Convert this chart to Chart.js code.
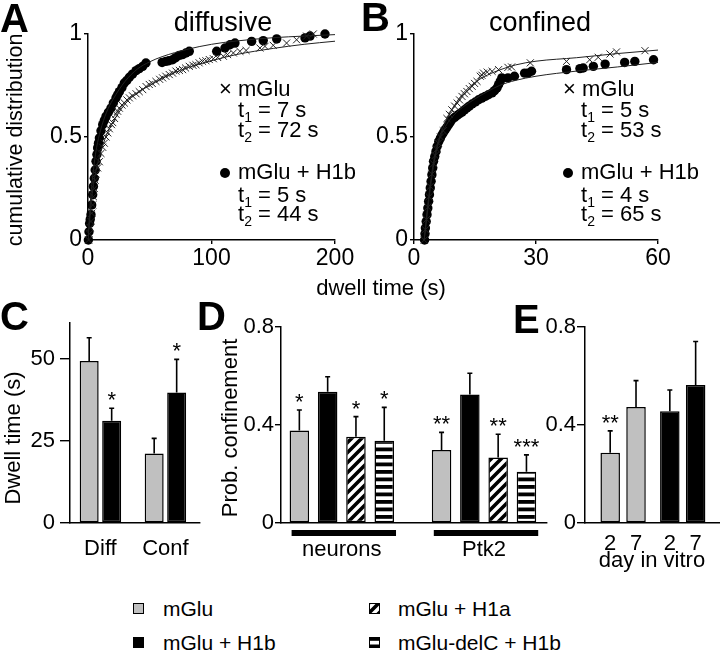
<!DOCTYPE html>
<html><head><meta charset="utf-8">
<script src="https://cdn.jsdelivr.net/npm/chart.js@4.4.0/dist/chart.umd.min.js"></script>
<style>
html,body{margin:0;padding:0;background:#fff;}
#fig{position:relative;width:720px;height:662px;overflow:hidden;background:#fff;font-family:'Liberation Sans',Arial,Helvetica,sans-serif;color:#000;}
#fig canvas{position:absolute;}
.t{position:absolute;white-space:nowrap;line-height:1;z-index:5;}
.sub{font-size:14px;position:relative;top:5px;}
.dot{position:absolute;width:10px;height:10px;border-radius:50%;background:#000;z-index:5;}
</style></head><body><div id="fig"></div>
<script>
// ---------- Panel A: diffusive (dwell time s, cumulative distribution) ----------
const aMGluTime = [0.5,1.1,1.7,2.4,3.0,3.8,4.4,5.1,5.8,6.5,7.8,9.2,10.5,11.9,13.2,14.6,16.0,17.3,19.0,20.0,21.5,22.7,24.0,25.4,27.5,29.4,31.5,33.5,36.0,38.9,41.5,44.3,47.0,49.6,52.0,55.0,58.0,60.4,63.0,65.8,68.5,71.2,74.0,76.6,79.0,82.0,85.0,87.4,90.0,92.8,95.5,98.2,101.5,105.0,109.6,113.0,117.7,123.0,128.0,139.2,143.3,150.0,160.8,168.9,177.0,182.4];
const aMGluCum  = [0.00,0.03,0.06,0.09,0.13,0.17,0.21,0.25,0.29,0.32,0.35,0.38,0.42,0.45,0.47,0.50,0.52,0.54,0.56,0.57,0.59,0.61,0.625,0.64,0.655,0.665,0.68,0.69,0.70,0.71,0.72,0.73,0.745,0.755,0.76,0.77,0.78,0.787,0.795,0.803,0.81,0.82,0.823,0.827,0.835,0.843,0.848,0.851,0.86,0.867,0.87,0.876,0.88,0.886,0.892,0.9,0.908,0.916,0.92,0.932,0.94,0.945,0.956,0.972,0.99,1.0];
const aH1bTime = [0.3,0.8,1.3,1.8,2.4,3.0,3.8,4.4,5.1,5.8,6.5,7.2,7.8,8.5,9.2,10.5,11.9,13.2,14.6,16.5,18.6,20.5,22.7,24.0,25.4,27.5,29.4,31.5,33.5,36.0,38.9,41.5,44.3,46.9,60.0,63.0,65.5,68.5,71.0,74.0,76.5,79.3,82.0,104.2,110.9,115.0,119.0,132.5,141.9,152.8,175.7,179.8,191.9];
const aH1bCum  = [0.0,0.04,0.08,0.10,0.123,0.17,0.22,0.26,0.30,0.34,0.382,0.415,0.447,0.47,0.495,0.53,0.56,0.58,0.60,0.62,0.64,0.665,0.69,0.705,0.72,0.74,0.762,0.775,0.79,0.805,0.822,0.832,0.843,0.859,0.862,0.867,0.87,0.875,0.885,0.896,0.90,0.908,0.916,0.916,0.932,0.948,0.956,0.964,0.968,0.976,0.981,0.99,1.0];
const aFitTime   = [0,1,2,3,5,7,10,15,20,30,40,50,60,80,100,120,150,175,200];
const aFitMGlu   = [0,0.07,0.14,0.2,0.29,0.35,0.42,0.51,0.57,0.66,0.715,0.75,0.785,0.835,0.87,0.9,0.93,0.95,0.965];
const aFitH1b    = [0,0.1,0.19,0.26,0.37,0.45,0.53,0.62,0.68,0.77,0.83,0.865,0.89,0.925,0.95,0.966,0.982,0.99,0.997];
const aXTicks = [0,100,200];

// ---------- Panel B: confined ----------
const bMGluTime = [2.5,2.8,3.1,3.4,3.7,4.0,4.4,4.8,5.2,5.6,6.0,6.5,7.2,8.1,8.7,9.3,10.0,10.6,11.2,11.8,12.4,13.0,13.6,14.3,14.9,15.5,16.3,16.7,17.1,18.0,19.2,20.8,23.1,24.0,28.6,37.5,43.2,45.3,48.2,49.8,56.8];
const bMGluCum  = [0.0,0.05,0.10,0.16,0.21,0.26,0.32,0.37,0.41,0.44,0.47,0.50,0.53,0.59,0.61,0.632,0.65,0.665,0.68,0.697,0.71,0.721,0.735,0.746,0.76,0.77,0.795,0.80,0.81,0.815,0.819,0.827,0.838,0.84,0.86,0.867,0.875,0.887,0.903,0.913,0.919];
const bH1bTime = [2.6,2.7,2.8,3.0,3.2,3.4,3.6,3.8,4.0,4.2,4.4,4.6,4.8,5.1,5.4,5.7,6.1,6.5,6.9,7.3,7.7,8.1,8.5,8.9,9.3,10.0,10.6,11.2,11.8,12.4,13.0,13.6,14.3,15.1,15.9,16.7,17.5,18.3,19.2,19.8,20.4,20.8,21.2,21.6,23.1,24.7,27.2,28.0,28.9,37.5,40.8,41.6,44.1,47.0,51.8,54.3,58.9];
const bH1bCum  = [0.0,0.03,0.058,0.09,0.123,0.155,0.188,0.22,0.253,0.285,0.317,0.35,0.382,0.405,0.43,0.455,0.479,0.495,0.511,0.524,0.536,0.548,0.56,0.572,0.584,0.595,0.605,0.613,0.621,0.631,0.641,0.65,0.66,0.67,0.681,0.689,0.697,0.705,0.714,0.725,0.738,0.754,0.77,0.787,0.787,0.795,0.81,0.81,0.819,0.827,0.832,0.835,0.843,0.854,0.862,0.867,0.875];
const bFitTime = [2.5,3,4,5,6,8,10,12,15,18,21,25,30,40,50,60];
const bFitMGlu = [0,0.1,0.27,0.4,0.48,0.585,0.655,0.71,0.765,0.8,0.825,0.85,0.868,0.885,0.905,0.922];
const bFitH1b  = [0,0.08,0.25,0.38,0.47,0.56,0.61,0.645,0.685,0.72,0.75,0.775,0.795,0.82,0.84,0.862];
const bXTicks = [0,30,60];
const cumTicks = [0,0.5,1];
const cumTickLabels = ['0','0.5','1'];

// ---------- Panel C: dwell time ----------
const cGroups = ['Diff','Conf'];
const cMGlu = [49.4, 21.2];
const cMGluErr = [7.1, 4.6];
const cMGluStars = ['',''];
const cH1b = [31.2, 39.8];
const cH1bErr = [3.8, 10.1];
const cH1bStars = ['*','*'];
const cTicks = [0,25,50];

// ---------- Panel D: prob. confinement ----------
const dGroups = ['neurons','Ptk2'];
const dMGlu = [0.378, 0.298];   const dMGluErr = [0.083, 0.072];  const dMGluStars = ['*','**'];
const dH1b  = [0.536, 0.525];   const dH1bErr  = [0.061, 0.086];  const dH1bStars  = ['',''];
const dH1a  = [0.352, 0.267];   const dH1aErr  = [0.082, 0.095];  const dH1aStars  = ['*','**'];
const dDelC = [0.336, 0.209];   const dDelCErr = [0.136, 0.069];  const dDelCStars = ['*','***'];
const probTicks = [0,0.4,0.8];
const probTickLabels = ['0','0.4','0.8'];

// ---------- Panel E: day in vitro ----------
const eGroups = ['mGlu','mGlu + H1b'];
const eDay2 = [0.287, 0.456];  const eDay2Err = [0.089, 0.087];  const eDay2Stars = ['**',''];
const eDay7 = [0.473, 0.563];  const eDay7Err = [0.108, 0.178];  const eDay7Stars = ['',''];
const eDays = ['2','7'];

// ---------- legend ----------
const legendItems = ['mGlu','mGlu + H1b','mGlu + H1a','mGlu-delC + H1b'];

// ================= rendering =================
const FONT = "'Liberation Sans', Arial, Helvetica, sans-serif";
Chart.defaults.font.family = FONT;
Chart.defaults.color = '#000';
const GRAY = '#c0c0c0', BLACK = '#000';
const fig = document.getElementById('fig');

function mk(l,t,w,h){const c=document.createElement('canvas');c.width=w;c.height=h;c.style.left=l+'px';c.style.top=t+'px';c.style.width=w+'px';c.style.height=h+'px';fig.appendChild(c);return c;}
function txt(html,x,base,size,o={}){
  const d=document.createElement('div');d.className='t';d.innerHTML=html;d.style.fontSize=size+'px';
  if(o.bold)d.style.fontWeight='bold';
  if(o.rot){d.style.left=x+'px';d.style.top=base+'px';d.style.transform='translate(-50%,-50%) rotate(-90deg)';}
  else{d.style.top=(base-0.8465*size)+'px';d.style.left=x+'px';if(o.center)d.style.transform='translateX(-50%)';}
  fig.appendChild(d);return d;
}
function dot(x,y){const d=document.createElement('div');d.className='dot';d.style.left=(x-5)+'px';d.style.top=(y-5)+'px';fig.appendChild(d);}
const pts=(xs,ys)=>xs.map((x,i)=>({x,y:ys[i]}));
const grp=vals=>vals.map((v,i)=>({x:i,y:v}));

function makeDiag(){const c=document.createElement('canvas');c.width=10;c.height=10;const g=c.getContext('2d');g.fillStyle='#fff';g.fillRect(0,0,10,10);g.strokeStyle='#000';g.lineWidth=3.6;g.beginPath();g.moveTo(-1,11);g.lineTo(11,-1);g.moveTo(-6,6);g.lineTo(6,-6);g.moveTo(4,16);g.lineTo(16,4);g.stroke();return g.createPattern(c,'repeat');}
function makeHoriz(){const c=document.createElement('canvas');c.width=8;c.height=15;const g=c.getContext('2d');g.fillStyle='#fff';g.fillRect(0,0,8,15);g.fillStyle='#000';g.fillRect(0,0,8,3.8);g.fillRect(0,7.5,8,3.8);return g.createPattern(c,'repeat');}
const DIAG=makeDiag(), HORIZ=makeHoriz();

function yScale(min,max,ticks,labels,width,tickLen,size,pad){
  return {type:'linear',min,max,
    afterBuildTicks:s=>{s.ticks=ticks.map(v=>({value:v}));},
    afterFit:s=>{s.width=width;},
    grid:{display:true,drawOnChartArea:false,drawTicks:true,tickLength:tickLen,color:'#000',lineWidth:1.4},
    border:{display:true,color:'#000',width:1.5},
    ticks:{callback:(v,i)=>labels?labels[i]:String(v),font:{size},color:'#000',padding:pad,autoSkip:false}};
}
function xLin(min,max,ticks,labels,height,tickLen,size,pad,showTicks){
  return {type:'linear',min,max,offset:false,
    afterBuildTicks:s=>{s.ticks=ticks.map(v=>({value:v}));},
    afterFit:s=>{s.height=height;},
    grid:{display:tickLen>0,drawOnChartArea:false,drawTicks:tickLen>0,tickLength:tickLen,color:'#000',lineWidth:1.4},
    border:{display:true,color:'#000',width:1.5},
    ticks:{display:showTicks,callback:(v,i)=>labels[i],font:{size},color:'#000',padding:pad,autoSkip:false,maxRotation:0}};
}

const barExtras={id:'barExtras',
  afterDatasetsDraw(chart,args,o){
    const ctx=chart.ctx, ys=chart.scales.y;
    ctx.save();
    chart.data.datasets.forEach((ds,di)=>{
      const meta=chart.getDatasetMeta(di);
      meta.data.forEach((bar,i)=>{
        const v=ds.data[i].y, e=ds.errors?ds.errors[i]:0;
        const top=ys.getPixelForValue(v+e);
        ctx.strokeStyle='#000';ctx.lineWidth=1.6;
        ctx.beginPath();ctx.moveTo(bar.x,bar.y);ctx.lineTo(bar.x,top);
        ctx.moveTo(bar.x-2.5,top);ctx.lineTo(bar.x+2.5,top);ctx.stroke();
        ctx.fillStyle='#000';ctx.textAlign='center';ctx.textBaseline='alphabetic';
        if(ds.stars&&ds.stars[i]){ctx.font='22px '+FONT;ctx.fillText(ds.stars[i],bar.x,top+o.starShift);}
        if(ds.barLabel&&o.barLabelGap){ctx.font='22px '+FONT;ctx.fillText(ds.barLabel,bar.x,chart.chartArea.bottom+o.barLabelGap);}
      });
    });
    if(o.underline){
      const n=chart.data.datasets.length;
      const first=chart.getDatasetMeta(0).data,last=chart.getDatasetMeta(n-1).data;
      ctx.fillStyle='#000';
      first.forEach((b,i)=>{const x0=b.x-b.width/2,x1=last[i].x+last[i].width/2;ctx.fillRect(x0+2,chart.chartArea.bottom+o.underline.gap,x1-x0,o.underline.h);});
    }
    ctx.restore();
  }};

const base={responsive:false,animation:false,devicePixelRatio:1,events:[],
  plugins:{legend:{display:false},tooltip:{enabled:false}}};

// ---- A ----
function scatterCfg(mT,mC,hT,hC,fT,fM,fH,xmax,xticks,padRight,yw){
  return {type:'scatter',
    data:{datasets:[
      {label:'mGlu fit',data:pts(fT,fM),showLine:true,pointRadius:0,borderColor:'#222',borderWidth:1,cubicInterpolationMode:'monotone'},
      {label:'mGlu + H1b fit',data:pts(fT,fH),showLine:true,pointRadius:0,borderColor:'#222',borderWidth:1,cubicInterpolationMode:'monotone'},
      {label:'mGlu',data:pts(mT,mC),pointStyle:'crossRot',pointRadius:5,borderColor:'#222',borderWidth:1,backgroundColor:'rgba(0,0,0,0)',clip:false},
      {label:'mGlu + H1b',data:pts(hT,hC),pointStyle:'circle',pointRadius:4.7,backgroundColor:'#000',borderColor:'#000',borderWidth:0,clip:false}
    ]},
    options:Object.assign({},base,{
      layout:{padding:{left:0,top:34,right:padRight,bottom:0}},
      scales:{
        x:xLin(0,xmax,xticks,xticks.map(String),50,4,23,1,true),
        y:yScale(0,1,cumTicks,cumTickLabels,yw,4,23,2)
      }})
  };
}
new Chart(mk(0,0,360,290),scatterCfg(aMGluTime,aMGluCum,aH1bTime,aH1bCum,aFitTime,aFitMGlu,aFitH1b,200,aXTicks,25,88));
new Chart(mk(360,0,360,290),scatterCfg(bMGluTime,bMGluCum,bH1bTime,bH1bCum,bFitTime,bFitMGlu,bFitH1b,60,bXTicks,62,54));

// ---- C ----
const barDs={borderColor:'#000',borderWidth:1.5,borderSkipped:false};
new Chart(mk(0,290,220,290),{type:'bar',
  data:{datasets:[
    Object.assign({label:'mGlu',data:grp(cMGlu),errors:cMGluErr,stars:cMGluStars,backgroundColor:GRAY},barDs),
    Object.assign({label:'mGlu + H1b',data:grp(cH1b),errors:cH1bErr,stars:cH1bStars,backgroundColor:BLACK},barDs)]},
  options:Object.assign({},base,{
    layout:{padding:{left:0,top:33,right:20,bottom:0}},
    datasets:{bar:{categoryPercentage:0.692,barPercentage:0.844}},
    plugins:Object.assign({},base.plugins,{barExtras:{starShift:-1}}),
    scales:{x:xLin(-0.468,1.532,[0,1],cGroups,57,0,22,13,true),
            y:yScale(0,61,cTicks,null,70,10,22,5)}}),
  plugins:[barExtras]});

// ---- D ----
new Chart(mk(220,290,340,290),{type:'bar',
  data:{datasets:[
    Object.assign({label:'mGlu',data:grp(dMGlu),errors:dMGluErr,stars:dMGluStars,backgroundColor:GRAY},barDs),
    Object.assign({label:'mGlu + H1b',data:grp(dH1b),errors:dH1bErr,stars:dH1bStars,backgroundColor:BLACK},barDs),
    Object.assign({label:'mGlu + H1a',data:grp(dH1a),errors:dH1aErr,stars:dH1aStars,backgroundColor:DIAG},barDs),
    Object.assign({label:'mGlu-delC + H1b',data:grp(dDelC),errors:dDelCErr,stars:dDelCStars,backgroundColor:HORIZ},barDs)]},
  options:Object.assign({},base,{
    layout:{padding:{left:0,top:37,right:13,bottom:0}},
    datasets:{bar:{categoryPercentage:0.796,barPercentage:0.69}},
    plugins:Object.assign({},base.plugins,{barExtras:{starShift:-1,underline:{gap:7,h:6}}}),
    scales:{x:xLin(-0.4276,1.443,[0,1],dGroups,57,0,22,14,true),
            y:yScale(0,0.8,probTicks,probTickLabels,61,6,22,1)}}),
  plugins:[barExtras]});

// ---- E ----
new Chart(mk(540,290,180,290),{type:'bar',
  data:{datasets:[
    Object.assign({label:'day 2',barLabel:eDays[0],data:grp(eDay2),errors:eDay2Err,stars:eDay2Stars,backgroundColor:[GRAY,BLACK]},barDs),
    Object.assign({label:'day 7',barLabel:eDays[1],data:grp(eDay7),errors:eDay7Err,stars:eDay7Stars,backgroundColor:[GRAY,BLACK]},barDs)]},
  options:Object.assign({},base,{
    layout:{padding:{left:0,top:37,right:0,bottom:0}},
    datasets:{bar:{categoryPercentage:0.866,barPercentage:0.756}},
    plugins:Object.assign({},base.plugins,{barExtras:{starShift:-1,barLabelGap:27}}),
    scales:{x:xLin(-0.639,1.625,[0,1],eGroups,57,0,22,14,false),
            y:yScale(0,0.8,probTicks,probTickLabels,45,8,22,1)}}),
  plugins:[barExtras]});

// ---- texts ----
txt('A',0,32,40,{bold:true});
txt('diffusive',223,32,27,{center:true});
txt('B',361,31,40,{bold:true});
txt('confined',540,32,27,{center:true});
txt('cumulative distribution',16,140,21.5,{rot:true});
txt('dwell time (s)',381,296,22,{center:true});
// annotations A
txt('×&nbsp;mGlu',219,97,22);
txt('t<span class="sub">1</span> = 7 s',238,118,22);
txt('t<span class="sub">2</span> = 72 s',238,138,22);
dot(225,173);
txt('mGlu + H1b',238,180,22);
txt('t<span class="sub">1</span> = 5 s',238,203,22);
txt('t<span class="sub">2</span> = 44 s',238,222,22);
// annotations B
txt('×&nbsp;mGlu',563,97,22);
txt('t<span class="sub">1</span> = 5 s',581,118,22);
txt('t<span class="sub">2</span> = 53 s',581,138,22);
dot(568,173);
txt('mGlu + H1b',581,180,22);
txt('t<span class="sub">1</span> = 4 s',581,203,22);
txt('t<span class="sub">2</span> = 65 s',581,222,22);
// bottom panels
txt('C',0,330,40,{bold:true});
txt('D',197,330,40,{bold:true});
txt('E',513,333,40,{bold:true});
txt('Dwell time (s)',13,438,22,{rot:true});
txt('Prob. confinement',230,428,22,{rot:true});
txt('day in vitro',652,568,22,{center:true});

// ---- legend ----
const legFills=[GRAY,BLACK,DIAG,HORIZ];
const legPos=[[133,603,163,616],[133,637,163,650],[369,603,398,616],[369,637,398,650]];
legendItems.forEach((name,i)=>{
  const [sx,sy,tx,tb]=legPos[i];
  const c=mk(sx,sy,11,11);const g=c.getContext('2d');
  g.fillStyle=legFills[i];g.fillRect(0,0,11,11);g.strokeStyle='#000';g.lineWidth=1;g.strokeRect(0.5,0.5,10,10);
  txt(name,tx,tb,21);
});
</script></body></html>
